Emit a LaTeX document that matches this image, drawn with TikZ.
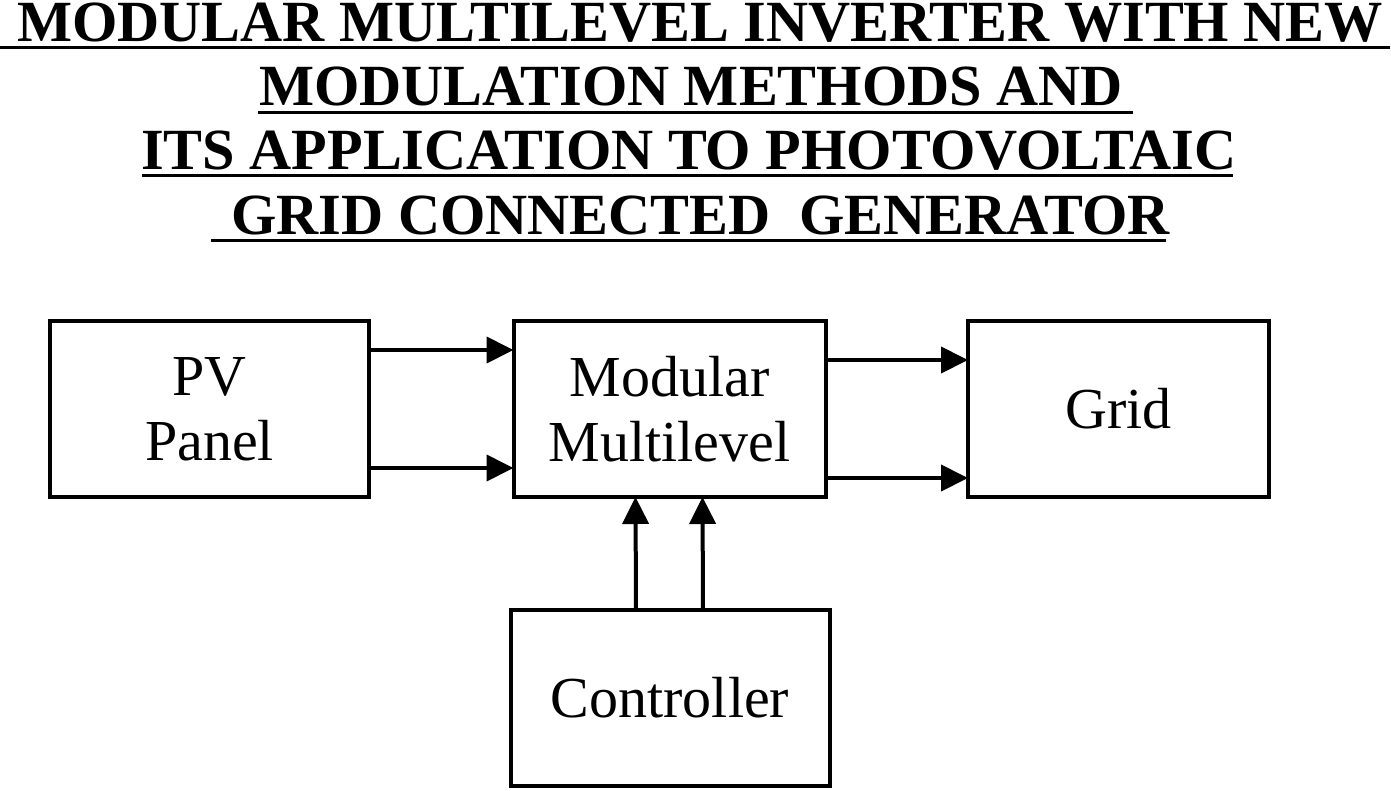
\documentclass[tikz,border=0pt]{standalone}
\usepackage{fontspec}
\setmainfont{Liberation Serif}
\usetikzlibrary{arrows.meta}
\tikzset{
  blk/.style={draw=black, line width=4pt, inner sep=0pt, outer sep=0pt, align=center,
    minimum height=176pt, font=\fontsize{58}{65}\selectfont},
  ttl/.style={anchor=base west, inner sep=0pt, font=\fontsize{58.3}{65}\selectfont\bfseries},
  uln/.style={line width=3pt},
  arr/.style={line width=4pt, -{Triangle[length=27pt,width=26pt]}}
}
\begin{document}
\begin{tikzpicture}[x=1pt,y=-1pt]
\useasboundingbox (0,0) rectangle (1391,790);
% title
\node[ttl] (t1) at (17,41) {MODULAR MULTILEVEL INVERTER WITH NEW};
\node[ttl] (t2) at (259,105) {MODULATION METHODS AND};
\node[ttl] (t3) at (141,169) {ITS APPLICATION TO PHOTOVOLTAIC};
\node[ttl] (t4) at (231,234) {GRID CONNECTED\ \ GENERATOR};
\draw[uln] (0,47) -- (1390,47);
\draw[uln] (258,112) -- (1133,112);
\draw[uln] (142,175) -- (1233,175);
\draw[uln] (211,240) -- (1166,240);
% blocks
\node[blk, minimum width=319pt] (pv) at (209.5,409) {PV\\Panel};
\node[blk, minimum width=312pt] (mmc) at (669.5,409) {Modular\\Multilevel};
\node[blk, minimum width=301pt] (grid) at (1118.5,409) {Grid};
\node[blk, minimum width=319pt] (ctrl) at (670,698) {Controller};
% connectors
\draw[arr] ([yshift=59pt]pv.east) -- ([yshift=59pt]mmc.west);
\draw[arr] ([yshift=-59pt]pv.east) -- ([yshift=-59pt]mmc.west);
\draw[arr] ([yshift=49pt]mmc.east) -- ([yshift=49pt]grid.west);
\draw[arr] ([yshift=-69pt]mmc.east) -- ([yshift=-69pt]grid.west);
\draw[arr] ([xshift=-34pt]ctrl.north) -- ([xshift=-34pt]mmc.south);
\draw[arr] ([xshift=33pt]ctrl.north) -- ([xshift=33pt]mmc.south);
\end{tikzpicture}
\end{document}
